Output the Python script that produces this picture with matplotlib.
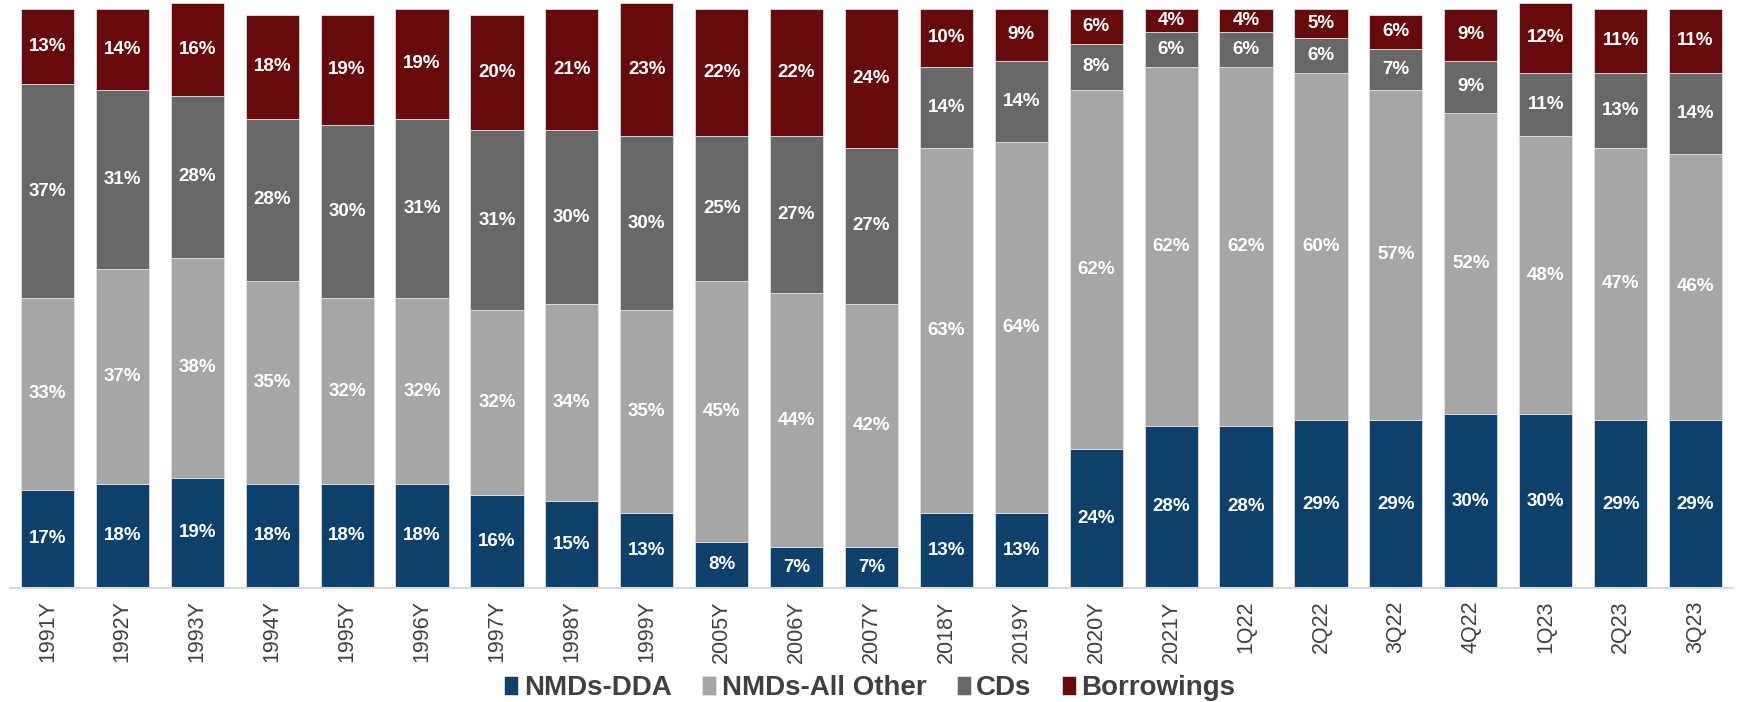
import numpy as np
import matplotlib.pyplot as plt

# funding mix by period, % of total
periods = ['1991Y', '1992Y', '1993Y', '1994Y', '1995Y', '1996Y', '1997Y', '1998Y',
           '1999Y', '2005Y', '2006Y', '2007Y', '2018Y', '2019Y', '2020Y', '2021Y',
           '1Q22', '2Q22', '3Q22', '4Q22', '1Q23', '2Q23', '3Q23']
dda = [17, 18, 19, 18, 18, 18, 16, 15, 13, 8, 7, 7, 13, 13, 24, 28, 28, 29, 29, 30, 30, 29, 29]
all_other = [33, 37, 38, 35, 32, 32, 32, 34, 35, 45, 44, 42, 63, 64, 62, 62, 62, 60, 57, 52, 48, 47, 46]
cds = [37, 31, 28, 28, 30, 31, 31, 30, 30, 25, 27, 27, 14, 14, 8, 6, 6, 6, 7, 9, 11, 13, 14]
borrowings = [13, 14, 16, 18, 19, 19, 20, 21, 23, 22, 22, 24, 10, 9, 6, 4, 4, 5, 6, 9, 12, 11, 11]

names = ['NMDs-DDA', 'NMDs-All Other', 'CDs', 'Borrowings']
colors = ['#0d416b', '#a6a6a6', '#686868', '#670a0b']

plt.rcParams['font.family'] = ['Liberation Sans', 'DejaVu Sans']

fig = plt.figure(figsize=(17.4, 7.02), dpi=100)
ax = fig.add_axes([10 / 1740, 114 / 702, 1723 / 1740, 585 / 702])

x = np.arange(len(periods))
bottom = np.zeros(len(periods))
for vals, name, c in zip([dda, all_other, cds, borrowings], names, colors):
    vals = np.array(vals, dtype=float)
    ax.bar(x, vals, width=0.71, bottom=bottom, color=c, label=name,
           edgecolor='#e0e0e0', linewidth=0.6)
    for xi, b, v in zip(x, bottom, vals):
        ax.text(xi, b + v / 2, f'{v:.0f}%', ha='center', va='center',
                color='white', fontsize=13.5, fontweight='bold')
    bottom += vals

ax.set_xlim(-0.5, len(periods) - 0.5)
ax.set_ylim(0, 101)
ax.set_yticks([])
ax.set_xticks(x)
ax.set_xticklabels(periods, rotation=90, fontsize=15.5, color='#404040')
ax.tick_params(axis='x', length=0, pad=9)
for s in ['top', 'right', 'left']:
    ax.spines[s].set_visible(False)
ax.spines['bottom'].set_color('#d9d9d9')
ax.spines['bottom'].set_linewidth(1.5)

fig.legend(loc='center', bbox_to_anchor=(0.5, 0.02), ncol=4, frameon=False,
           prop={'weight': 'bold', 'size': 20},
           labelcolor='#404040', handlelength=0.5, handleheight=0.7,
           handletextpad=0.2, columnspacing=1.1, borderpad=0)

fig.savefig('out.png', dpi=100)
